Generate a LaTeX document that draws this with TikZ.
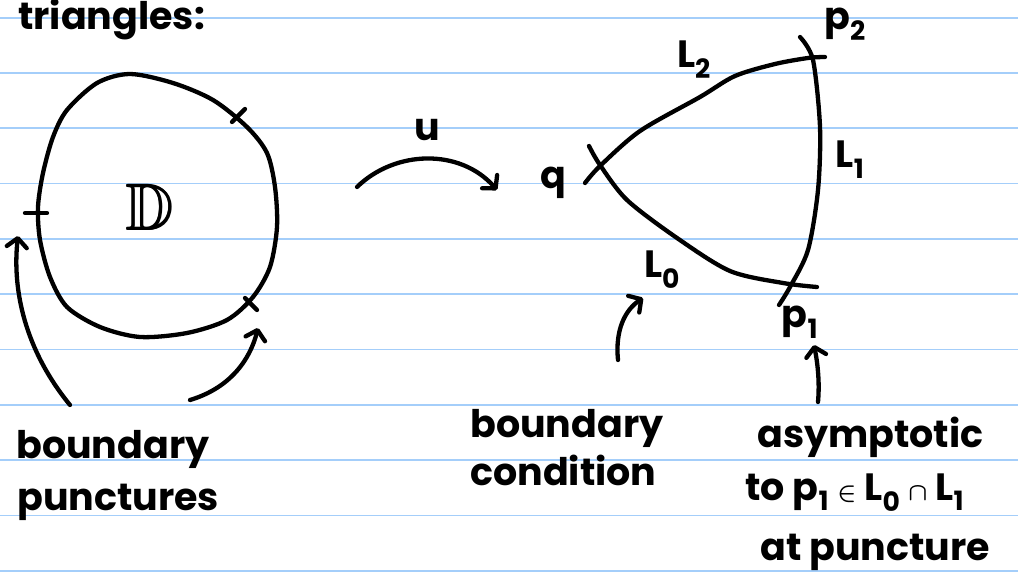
\documentclass[tikz,border=0pt]{standalone}
\usepackage{amsmath,amssymb}
\usepackage{fontspec}
\setmainfont{Poppins}
\usetikzlibrary{arrows.meta}

\definecolor{ruleblue}{RGB}{164,206,250}
\tikzset{
  ink/.style={line width=4.3pt, line cap=round, line join=round},
  note/.style={ink, -{Straight Barb[length=9pt,width=20pt,round]}},
  hand/.style={font=\fontsize{38}{44}\selectfont\bfseries, inner sep=0pt},
  ruleline/.style={draw=ruleblue, line width=1.8pt}
}

\begin{document}
\begin{tikzpicture}[x=1pt,y=-1pt]
    \useasboundingbox (0,0) rectangle (1018,577);
    \fill[white] (0,0) rectangle (1018,577);

    % ruled paper
    \foreach \k in {0,...,10}
        \draw[ruleline] (0,17.7+55.3*\k) -- (1018,17.7+55.3*\k);

    \node[hand, anchor=base west] (title) at (18,30) {triangles:};

    % the disk with its punctures
    \draw[ink] plot[smooth cycle, tension=0.5] coordinates {
        (130,74) (173,83) (213,100) (247,127) (267,153) (275,187)
        (277,227) (270,267) (253,297) (227,320) (187,333) (140,337)
        (100,327) (67,307) (50,277) (40,240) (38,207) (43,173)
        (53,137) (67,110) (97,83)};
    \node[hand, font=\fontsize{66}{70}\selectfont] (disk) at (150,207) {$\pmb{\mathbb{D}}$};
    \draw[ink] (25,213) -- (47,213);
    \draw[ink] (232,122) -- (245,109);
    \draw[ink] (245,298) -- (257,310);
    \coordinate (punctL) at (18,236);
    \coordinate (punctR) at (258,328);

    \node[hand, anchor=base west] (bdry) at (16,458) {boundary};
    \node[hand, anchor=base west] (punct) at (17,510) {punctures};
    \coordinate (bdryL) at (70,405);
    \coordinate (bdryR) at (190,400);
    \draw[note] (bdryL) .. controls (25,350) and (12,290) .. (punctL);
    \draw[note] (bdryR) .. controls (230,388) and (250,360) .. (punctR);

    % the map u
    \coordinate (uA) at (357,187);
    \coordinate (uB) at (497,190);
    \draw[note] (uA) .. controls (395,150) and (460,148) .. (uB)
        node[midway, hand, above=16pt] (u) {u};

    % the triangle
    \node[hand] (q) at (553,183) {q};
    \draw[ink] plot[smooth, tension=0.5] coordinates {
        (585,183) (600,166) (640,131) (700,97) (735,76) (775,64) (808,58) (825,57)};
    \draw[ink] plot[smooth, tension=0.5] coordinates {
        (589,146) (600,165) (627,200) (677,238) (730,271) (783,283) (817,287)};
    \draw[ink] plot[smooth, tension=0.5] coordinates {
        (800,37) (813,60) (820,127) (818,190) (808,250) (790,287) (779,305)};
    \node[hand] (L2) at (694,60) {L\textsubscript{2}};
    \node[hand] (L1) at (850,160) {L\textsubscript{1}};
    \node[hand] (L0) at (662,270) {L\textsubscript{0}};
    \node[hand] (p2) at (845,24) {p\textsubscript{2}};
    \node[hand] (p1) at (800,322) {p\textsubscript{1}};

    % annotations
    \node[hand, anchor=base west] (bc1) at (470,437) {boundary};
    \node[hand, anchor=base west] (bc2) at (470,485) {condition};
    \node[hand, anchor=base west] (as1) at (757,447) {asymptotic};
    \node[hand, anchor=base west] (as2) at (745,500) {to p\textsubscript{1} $\boldsymbol{\in}$ L\textsubscript{0} $\boldsymbol{\cap}$ L\textsubscript{1}};
    \node[hand, anchor=base west] (as3) at (760,560) {at puncture};
    \coordinate (bcA) at (618,360);
    \coordinate (bcB) at (643,298);
    \coordinate (asA) at (818,402);
    \coordinate (asB) at (814,345);
    \draw[note] (bcA) .. controls (615,330) and (625,310) .. (bcB);
    \draw[note] (asA) .. controls (820,380) and (817,360) .. (asB);
\end{tikzpicture}
\end{document}
